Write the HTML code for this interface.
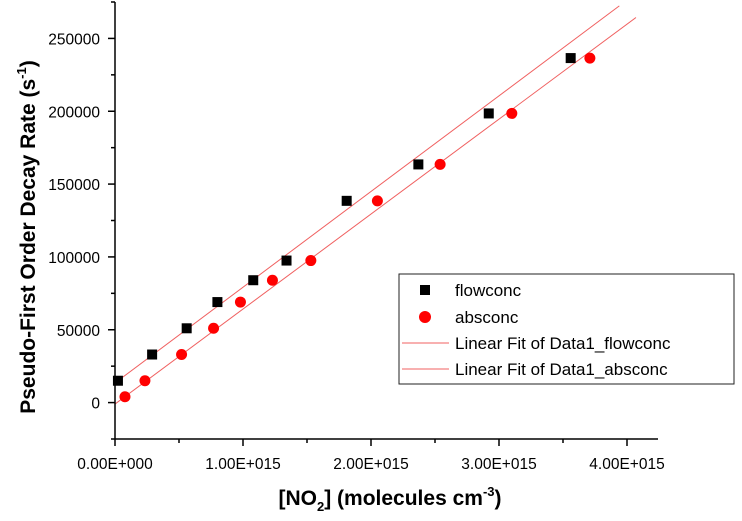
<!DOCTYPE html>
<html><head><meta charset="utf-8"><style>
html,body{margin:0;padding:0;background:#fff;}
svg{display:block;font-family:"Liberation Sans",Arial,sans-serif;}
</style></head><body>
<svg id="chart" width="742" height="521" viewBox="0 0 742 521" xmlns="http://www.w3.org/2000/svg">
<g id="fits"></g>
<g id="axes"></g>
<g id="points"></g>
<text transform="translate(35,237) rotate(-90)" text-anchor="middle" font-size="21" font-weight="bold">Pseudo-First Order Decay Rate (s<tspan font-size="13" dy="-9">-1</tspan><tspan dy="9">)</tspan></text>
<text x="390" y="505" text-anchor="middle" font-size="21" font-weight="bold">[NO<tspan font-size="13" dy="6">2</tspan><tspan dy="-6">] (molecules cm</tspan><tspan font-size="13" dy="-9">-3</tspan><tspan dy="9">)</tspan></text>
<g>
<rect x="399" y="274" width="335" height="110" fill="#fff" stroke="#222" stroke-width="1"/>
<rect x="420" y="285" width="10" height="10" fill="#000"/>
<text x="455" y="296" font-size="17">flowconc</text>
<circle cx="425" cy="317" r="6" fill="#ff0000"/>
<text x="455" y="323" font-size="17">absconc</text>
<line x1="402" y1="343" x2="449" y2="343" stroke="#f06060" stroke-width="1"/>
<text x="455" y="349" font-size="17">Linear Fit of Data1_flowconc</text>
<line x1="402" y1="369" x2="449" y2="369" stroke="#f06060" stroke-width="1"/>
<text x="455" y="375" font-size="17">Linear Fit of Data1_absconc</text>
</g>
</svg>
<script>
const flowX = [0.023e15,0.29e15,0.56e15,0.80e15,1.08e15,1.34e15,1.81e15,2.37e15,2.92e15,3.56e15];
const flowY = [15000,33000,51000,69000,84000,97500,138500,163500,198500,236500];
const absX = [0.078e15,0.234e15,0.52e15,0.77e15,0.98e15,1.23e15,1.53e15,2.05e15,2.54e15,3.10e15,3.71e15];
const absY = [4000,15000,33000,51000,69000,84000,97500,138500,163500,198500,236500];
const fitIntercepts = [13500,-1000];
const fitSlopes = [6.57e-11,6.52e-11];
const fitEnds = [3.94e15,4.07e15];
const xTicks = [0,1e15,2e15,3e15,4e15];
const xTickLabels = ["0.00E+000","1.00E+015","2.00E+015","3.00E+015","4.00E+015"];
const yTicks = [0,50000,100000,150000,200000,250000];
const yTickLabels = ["0","50000","100000","150000","200000","250000"];

const X0=115,X1=658,Y0=439,Y1=2;
const xMin=0,xMax=(658-115)/128*1e15,yMin=-25000,yMax=275000;
const sx=v=>X0+(v-xMin)/(xMax-xMin)*(X1-X0);
const sy=v=>Y0-(v-yMin)/(yMax-yMin)*(Y0-Y1);
const NS="http://www.w3.org/2000/svg";
function mk(tag,attrs,parent){const e=document.createElementNS(NS,tag);for(const k in attrs)e.setAttribute(k,attrs[k]);parent.appendChild(e);return e;}
const axes=document.getElementById('axes');
let a=mk('line',{x1:X0,y1:Y0,x2:X0,y2:Y1,stroke:'#000','stroke-width':1.5},axes);


a=mk('line',{x1:X0,y1:Y0,x2:X1,y2:Y0,stroke:'#000','stroke-width':1.5},axes);


xTicks.forEach((v,i)=>{
  const x=sx(v);
  mk('line',{x1:x,y1:Y0,x2:x,y2:Y0+7,stroke:'#000','stroke-width':1.5},axes);
  const t=mk('text',{x:x,y:Y0+30,'text-anchor':'middle','font-size':15.5},axes);
  t.textContent=xTickLabels[i];
  
  
  const m=v+0.5e15;
  if(m<xMax) mk('line',{x1:sx(m),y1:Y0,x2:sx(m),y2:Y0+4,stroke:'#000','stroke-width':1.5},axes);
});
yTicks.forEach((v,i)=>{
  const y=sy(v);
  mk('line',{x1:X0-7,y1:y,x2:X0,y2:y,stroke:'#000','stroke-width':1.5},axes);
  const t=mk('text',{x:X0-15,y:y+6,'text-anchor':'end','font-size':15.5},axes);
  t.textContent=yTickLabels[i];
  
  
});
for(let v=-25000;v<=275000;v+=50000){mk('line',{x1:X0-4,y1:sy(v),x2:X0,y2:sy(v),stroke:'#000','stroke-width':1.5},axes);}
const fits=document.getElementById('fits');
['fit-line-flowconc','fit-line-absconc'].forEach((name,i)=>{
  const c=fitIntercepts[i],b=fitSlopes[i];
  const l=mk('line',{x1:sx(0),y1:sy(c),x2:sx(fitEnds[i]),y2:sy(c+b*fitEnds[i]),stroke:'#f06060','stroke-width':1},fits);
  
  
});
const pts=document.getElementById('points');
absX.forEach((v,i)=>{
  const c=mk('circle',{cx:sx(v),cy:sy(absY[i]),r:5.5,fill:'#ff0000'},pts);
  
  
});
flowX.forEach((v,i)=>{
  const r=mk('rect',{x:sx(v)-5,y:sy(flowY[i])-5,width:10,height:10,fill:'#000'},pts);
  
  
});
</script>
</body></html>
